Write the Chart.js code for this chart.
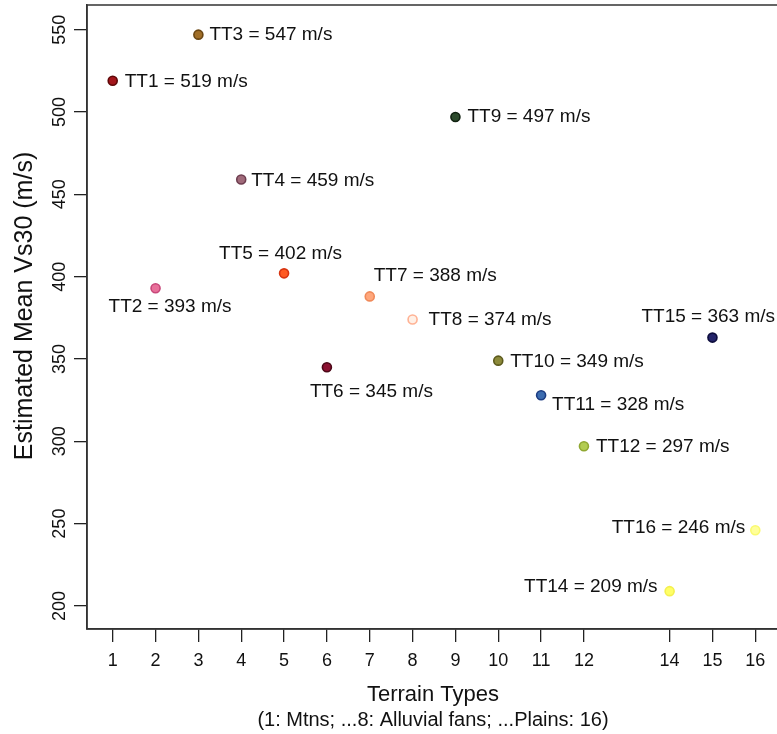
<!DOCTYPE html>
<html>
<head>
<meta charset="utf-8">
<script src="https://cdn.jsdelivr.net/npm/chart.js@4/dist/chart.umd.min.js"></script>
<style>
  html, body { margin: 0; padding: 0; background: #fff; overflow: hidden; }
  #wrap { width: 782px; height: 734px; }
</style>
</head>
<body>
<div id="wrap"><canvas id="vsChart" width="782" height="734"></canvas></div>
<script>
// terrain type number and mean Vs30 for each class
const terrainTypes = [1, 2, 3, 4, 5, 6, 7, 8, 9, 10, 11, 12, 14, 15, 16];
const meanVs30 = [519, 393, 547, 459, 402, 345, 388, 374, 497, 349, 328, 297, 209, 363, 246];
const xTicks = [1, 2, 3, 4, 5, 6, 7, 8, 9, 10, 11, 12, 14, 15, 16];
const yTicks = [200, 250, 300, 350, 400, 450, 500, 550];

const fillColors = ['#a3151b', '#e8709a', '#a06e28', '#a06a7a', '#ff5a22', '#8c1232', '#ffa77c', '#fff0e6',
                    '#2c4a2c', '#8c8a3a', '#3c6cb0', '#b2cc52', '#ffff66', '#24246a', '#ffff99'];
const edgeColors = ['#5e0808', '#c8487a', '#6a4612', '#6e3e50', '#d83410', '#4c0818', '#f08a5a', '#ffb294',
                    '#112211', '#5c5a1c', '#1c3c82', '#90a832', '#f4f050', '#0c0c3c', '#fafa70'];

// where each value label sits relative to its dot: [dx, dy, align]
const labelPlace = [
  [12, 1, 'left'], [-47, 19, 'left'], [11, 0, 'left'], [10, 1, 'left'], [-65, -20, 'left'],
  [-17, 25, 'left'], [4, -21, 'left'], [16, 0, 'left'], [12, 0, 'left'], [12, 1, 'left'],
  [11, 10, 'left'], [12, 1, 'left'], [-12, -4, 'right'], [-71, -21, 'left'], [-10, -2, 'right']
];

const FONT = '"Liberation Sans", Arial, Helvetica, sans-serif';
const INK = '#111';

const textPlugin = {
  id: 'textLayer',
  afterDraw(chart) {
    const { ctx, chartArea: a, scales } = chart;
    const xs = scales.x, ys = scales.y;
    ctx.save();

    // box around the plot (right side sits just past the window)
    ctx.strokeStyle = '#333';
    ctx.lineWidth = 1.5;
    ctx.strokeRect(a.left, a.top, a.right - a.left, a.bottom - a.top);

    ctx.fillStyle = INK;
    ctx.font = '18px ' + FONT;
    ctx.textAlign = 'center';
    ctx.textBaseline = 'middle';

    // x tick labels
    xTicks.forEach(v => ctx.fillText(String(v), xs.getPixelForValue(v), 661));

    // rotated y tick labels
    yTicks.forEach(v => {
      ctx.save();
      ctx.translate(60, ys.getPixelForValue(v));
      ctx.rotate(-Math.PI / 2);
      ctx.fillText(String(v), 0, 0);
      ctx.restore();
    });

    // y title
    ctx.save();
    ctx.font = '25px ' + FONT;
    ctx.translate(25, 306);
    ctx.rotate(-Math.PI / 2);
    ctx.fillText('Estimated Mean Vs30 (m/s)', 0, 0);
    ctx.restore();

    // x title and note
    ctx.font = '22px ' + FONT;
    ctx.fillText('Terrain Types', 433, 695);
    ctx.font = '20px ' + FONT;
    ctx.fillText('(1: Mtns; ...8: Alluvial fans; ...Plains: 16)', 433, 720);

    // value labels next to dots
    ctx.font = '19px ' + FONT;
    terrainTypes.forEach((t, i) => {
      const [dx, dy, align] = labelPlace[i];
      const px = xs.getPixelForValue(t);
      const py = ys.getPixelForValue(meanVs30[i]);
      ctx.textAlign = align;
      ctx.fillText('TT' + t + ' = ' + meanVs30[i] + ' m/s', px + dx, py + dy);
    });

    ctx.restore();
  }
};

new Chart(document.getElementById('vsChart'), {
  type: 'scatter',
  data: {
    datasets: [{
      data: terrainTypes.map((t, i) => ({ x: t, y: meanVs30[i] })),
      backgroundColor: fillColors,
      borderColor: edgeColors,
      borderWidth: 1.6,
      pointRadius: 4.5,
      pointHoverRadius: 4.5
    }]
  },
  options: {
    responsive: false,
    animation: false,
    devicePixelRatio: 1,
    layout: { autoPadding: false, padding: { top: 5, right: 1, left: 0, bottom: 0 } },
    plugins: { legend: { display: false }, tooltip: { enabled: false } },
    scales: {
      x: {
        type: 'linear',
        min: 0.4,
        max: 16.6,
        afterBuildTicks: s => { s.ticks = xTicks.map(v => ({ value: v })); },
        afterFit: s => { s.height = 105; },
        grid: { drawOnChartArea: false, tickLength: 13, color: '#222', lineWidth: 1.3 },
        border: { display: true, color: '#333', width: 1.5 },
        ticks: { display: false }
      },
      y: {
        min: 186,
        max: 565,
        afterBuildTicks: s => { s.ticks = yTicks.map(v => ({ value: v })); },
        afterFit: s => { s.width = 87; },
        grid: { drawOnChartArea: false, tickLength: 13, color: '#222', lineWidth: 1.3 },
        border: { display: true, color: '#333', width: 1.5 },
        ticks: { display: false }
      }
    }
  },
  plugins: [textPlugin]
});
</script>
</body>
</html>
